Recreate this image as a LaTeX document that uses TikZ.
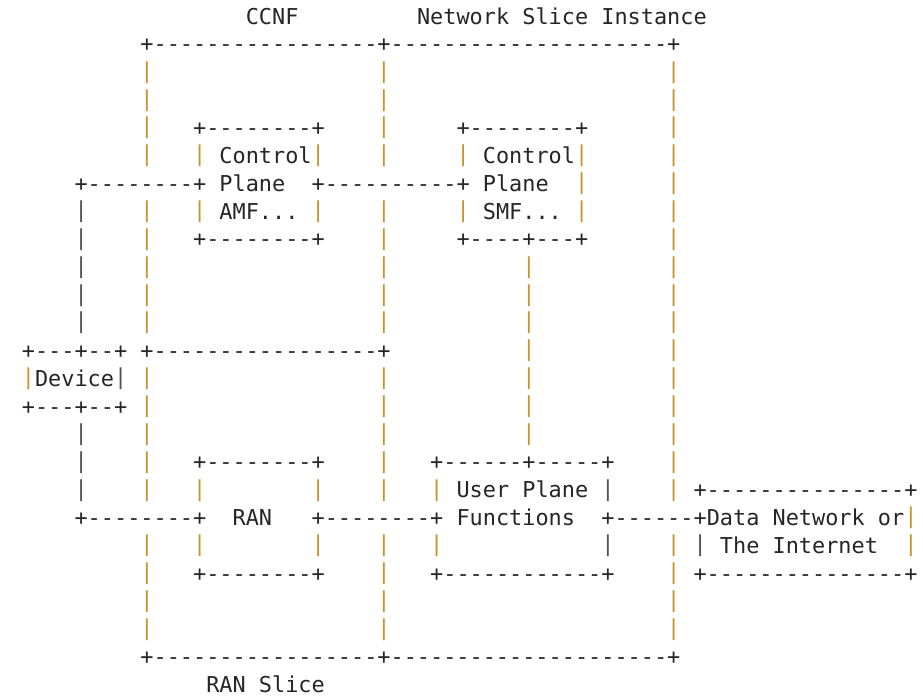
\documentclass[tikz,border=0pt]{standalone}
\usepackage{fontspec}
\setmonofont{DejaVu Sans Mono}

\definecolor{ink}{HTML}{262626}
\definecolor{bar}{HTML}{C8952C}
\definecolor{barshade}{HTML}{50505E}

% vertical strokes of the character grid
\newcommand\pp{\textcolor{bar}{\raisebox{1.5pt}{|}}}
\newcommand\pq{\textcolor{barshade}{\raisebox{1.5pt}{|}}}

% a run of n hyphens
\ExplSyntaxOn
\cs_new:Npn \dashrun #1 { \prg_replicate:nn {#1} { - } }
\ExplSyntaxOff

% text placed on the character grid: row, column, text
\newcommand\cellat[3]{%
  \node[cell] (r#1c#2) at ({21.9pt+#2*13.17pt},{-24pt-#1*27.86pt}) {#3};}

\tikzset{
  cell/.style={anchor=base west, inner sep=0pt, outer sep=0pt, text=ink,
    font=\ttfamily\fontsize{21.875pt}{27.86pt}\selectfont}
}

\begin{document}
\begin{tikzpicture}
\fill[white] (0,0) rectangle (923pt,-697pt);
\useasboundingbox (0,0) rectangle (923pt,-697pt);

% titles
\cellat{0}{17}{CCNF}
\cellat{0}{30}{Network Slice Instance}

% outer frame top
\cellat{1}{9}{+\dashrun{17}+\dashrun{21}+}
\foreach \r in {2,3}{\cellat{\r}{9}{\pp}\cellat{\r}{27}{\pp}\cellat{\r}{49}{\pp}}

% control plane boxes
\cellat{4}{9}{\pp}\cellat{4}{13}{+\dashrun{8}+}\cellat{4}{27}{\pp}
\cellat{4}{33}{+\dashrun{8}+}\cellat{4}{49}{\pp}

\cellat{5}{9}{\pp}\cellat{5}{13}{\pp}\cellat{5}{15}{Control}\cellat{5}{22}{\pp}
\cellat{5}{27}{\pp}\cellat{5}{33}{\pp}\cellat{5}{35}{Control}\cellat{5}{42}{\pp}
\cellat{5}{49}{\pp}

\cellat{6}{4}{+\dashrun{8}+}\cellat{6}{15}{Plane}\cellat{6}{22}{+\dashrun{10}+}
\cellat{6}{35}{Plane}\cellat{6}{42}{\pp}\cellat{6}{49}{\pp}

\cellat{7}{4}{\pq}\cellat{7}{9}{\pp}\cellat{7}{13}{\pp}\cellat{7}{15}{AMF...}
\cellat{7}{22}{\pp}\cellat{7}{27}{\pp}\cellat{7}{33}{\pp}\cellat{7}{35}{SMF...}
\cellat{7}{42}{\pp}\cellat{7}{49}{\pp}

\cellat{8}{4}{\pq}\cellat{8}{9}{\pp}\cellat{8}{13}{+\dashrun{8}+}\cellat{8}{27}{\pp}
\cellat{8}{33}{+\dashrun{4}+\dashrun{3}+}\cellat{8}{49}{\pp}

\foreach \r in {9,10,11}{\cellat{\r}{4}{\pq}\cellat{\r}{9}{\pp}\cellat{\r}{27}{\pp}
  \cellat{\r}{38}{\pp}\cellat{\r}{49}{\pp}}

% device and RAN slice frame
\cellat{12}{0}{+\dashrun{3}+\dashrun{2}+}\cellat{12}{9}{+\dashrun{17}+}
\cellat{12}{38}{\pp}\cellat{12}{49}{\pp}

\cellat{13}{0}{\pp Device\pq}\cellat{13}{9}{\pp}\cellat{13}{27}{\pp}
\cellat{13}{38}{\pp}\cellat{13}{49}{\pp}

\cellat{14}{0}{+\dashrun{3}+\dashrun{2}+}\cellat{14}{9}{\pp}\cellat{14}{27}{\pp}
\cellat{14}{38}{\pp}\cellat{14}{49}{\pp}

\cellat{15}{4}{\pq}\cellat{15}{9}{\pp}\cellat{15}{27}{\pp}\cellat{15}{38}{\pp}
\cellat{15}{49}{\pp}

% RAN and user plane boxes
\cellat{16}{4}{\pq}\cellat{16}{9}{\pp}\cellat{16}{13}{+\dashrun{8}+}\cellat{16}{27}{\pp}
\cellat{16}{31}{+\dashrun{6}+\dashrun{5}+}\cellat{16}{49}{\pp}

\cellat{17}{4}{\pq}\cellat{17}{9}{\pp}\cellat{17}{13}{\pp}\cellat{17}{22}{\pp}
\cellat{17}{27}{\pp}\cellat{17}{31}{\pp}\cellat{17}{33}{User Plane}\cellat{17}{44}{\pq}
\cellat{17}{49}{\pp}\cellat{17}{51}{+\dashrun{15}+}

\cellat{18}{4}{+\dashrun{8}+}\cellat{18}{16}{RAN}\cellat{18}{22}{+\dashrun{8}+}
\cellat{18}{33}{Functions}\cellat{18}{44}{+\dashrun{6}+}
\cellat{18}{52}{Data Network or}\cellat{18}{67}{\pp}

\cellat{19}{9}{\pp}\cellat{19}{13}{\pp}\cellat{19}{22}{\pp}\cellat{19}{27}{\pp}
\cellat{19}{31}{\pp}\cellat{19}{44}{\pq}\cellat{19}{49}{\pp}\cellat{19}{51}{\pq}
\cellat{19}{53}{The Internet}\cellat{19}{67}{\pp}

\cellat{20}{9}{\pp}\cellat{20}{13}{+\dashrun{8}+}\cellat{20}{27}{\pp}
\cellat{20}{31}{+\dashrun{12}+}\cellat{20}{49}{\pp}\cellat{20}{51}{+\dashrun{15}+}

\foreach \r in {21,22}{\cellat{\r}{9}{\pp}\cellat{\r}{27}{\pp}\cellat{\r}{49}{\pp}}

% outer frame bottom
\cellat{23}{9}{+\dashrun{17}+\dashrun{21}+}
\cellat{24}{14}{RAN Slice}
\end{tikzpicture}
\end{document}
